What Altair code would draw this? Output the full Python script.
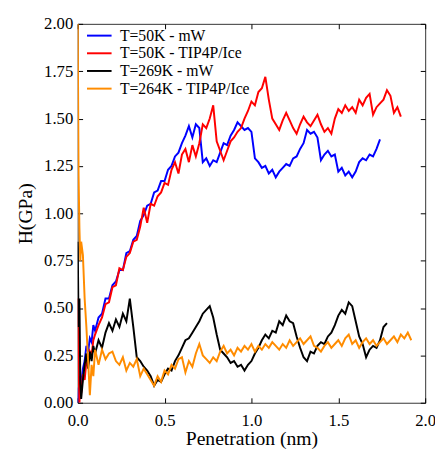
import altair as alt
import pandas as pd

penetration_nm = [0.000, 0.005, 0.010, 0.015, 0.020, 0.030, 0.040, 0.050, 0.060, 0.070, 0.080, 0.090, 0.100,
    0.12, 0.14, 0.16, 0.18, 0.20, 0.22, 0.24, 0.26, 0.28, 0.30,
    0.32, 0.34, 0.36, 0.38, 0.40, 0.42, 0.44, 0.46, 0.48, 0.50,
    0.52, 0.54, 0.56, 0.58, 0.60, 0.62, 0.64, 0.66, 0.68, 0.70,
    0.72, 0.74, 0.76, 0.78, 0.80, 0.82, 0.84, 0.86, 0.88, 0.90,
    0.92, 0.94, 0.96, 0.98, 1.00, 1.02, 1.04, 1.06, 1.08, 1.10,
    1.12, 1.14, 1.16, 1.18, 1.20, 1.22, 1.24, 1.26, 1.28, 1.30,
    1.32, 1.34, 1.36, 1.38, 1.40, 1.42, 1.44, 1.46, 1.48, 1.50,
    1.52, 1.54, 1.56, 1.58, 1.60, 1.62, 1.64, 1.66, 1.68, 1.70,
    1.72, 1.74, 1.76, 1.78, 1.80, 1.82, 1.84, 1.86, 1.88, 1.90,
    1.92]

h_50k_mw = [0.00, 0.08, 0.05, 0.14, 0.10, 0.18, 0.22, 0.30, 0.27, 0.34, 0.32, 0.41, 0.38,
    0.45, 0.47, 0.55, 0.55, 0.62, 0.64, 0.70, 0.70, 0.79, 0.80,
    0.86, 0.88, 0.96, 0.99, 1.04, 1.05, 1.11, 1.12, 1.17, 1.17,
    1.23, 1.25, 1.30, 1.32, 1.37, 1.41, 1.46, 1.40, 1.47, 1.45,
    1.27, 1.29, 1.25, 1.28, 1.27, 1.32, 1.37, 1.36, 1.41, 1.44,
    1.48, 1.46, 1.44, 1.45, 1.43, 1.29, 1.27, 1.24, 1.25, 1.21,
    1.23, 1.19, 1.22, 1.24, 1.26, 1.25, 1.29, 1.30, 1.34, 1.37,
    1.44, 1.42, 1.43, 1.40, 1.28, 1.31, 1.33, 1.30, 1.31, 1.22,
    1.24, 1.20, 1.22, 1.19, 1.22, 1.27, 1.29, 1.28, 1.31, 1.30,
    1.34, 1.39]

h_50k_tip4p = [0.55, 0.20, 0.00, 0.08, 0.05, 0.15, 0.12, 0.22, 0.20, 0.27, 0.25, 0.33, 0.36,
    0.41, 0.45, 0.52, 0.53, 0.61, 0.62, 0.71, 0.70, 0.77, 0.79,
    0.85, 0.86, 0.93, 1.03, 0.95, 1.05, 1.04, 1.09, 1.11, 1.16,
    1.15, 1.23, 1.27, 1.21, 1.31, 1.34, 1.27, 1.36, 1.30, 1.37,
    1.47, 1.45, 1.50, 1.57, 1.38, 1.33, 1.28, 1.33, 1.38, 1.40,
    1.43, 1.45, 1.50, 1.54, 1.59, 1.57, 1.64, 1.66, 1.72, 1.60,
    1.50, 1.47, 1.44, 1.49, 1.53, 1.49, 1.45, 1.42, 1.47, 1.51,
    1.48, 1.46, 1.49, 1.52, 1.47, 1.43, 1.45, 1.42, 1.50, 1.55,
    1.53, 1.57, 1.54, 1.56, 1.53, 1.60, 1.57, 1.61, 1.63, 1.52,
    1.56, 1.58, 1.60, 1.65, 1.62, 1.53, 1.56, 1.51]

h_269k_mw = [0.85, 0.40, 0.55, 0.10, 0.02, 0.12, 0.20, 0.26, 0.18, 0.27, 0.22, 0.30, 0.26,
    0.33, 0.29, 0.37, 0.42, 0.38, 0.44, 0.40, 0.47, 0.43, 0.55,
    0.40, 0.24, 0.22, 0.19, 0.17, 0.14, 0.09, 0.12, 0.11, 0.15,
    0.18, 0.17, 0.22, 0.25, 0.29, 0.33, 0.34, 0.37, 0.40, 0.43,
    0.47, 0.49, 0.51, 0.45, 0.36, 0.28, 0.26, 0.24, 0.21, 0.22,
    0.19, 0.20, 0.17, 0.20, 0.22, 0.26, 0.29, 0.33, 0.36, 0.34,
    0.38, 0.37, 0.43, 0.41, 0.46, 0.43, 0.42, 0.35, 0.29, 0.24,
    0.22, 0.27, 0.26, 0.30, 0.32, 0.31, 0.35, 0.37, 0.41, 0.46,
    0.49, 0.47, 0.53, 0.51, 0.43, 0.35, 0.31, 0.24, 0.28, 0.30,
    0.29, 0.33, 0.40, 0.42]

h_264k_tip4p = [2.00, 1.20, 0.92, 0.75, 0.85, 0.78, 0.55, 0.40, 0.22, 0.04, 0.20, 0.14, 0.28,
    0.20, 0.28, 0.23, 0.26, 0.27, 0.22, 0.20, 0.24, 0.17, 0.21,
    0.19, 0.23, 0.14, 0.18, 0.15, 0.12, 0.09, 0.14, 0.11, 0.17,
    0.15, 0.20, 0.18, 0.23, 0.24, 0.16, 0.22, 0.19, 0.26, 0.31,
    0.25, 0.23, 0.21, 0.24, 0.22, 0.27, 0.30, 0.26, 0.28, 0.25,
    0.29, 0.27, 0.30, 0.28, 0.31, 0.27, 0.30, 0.28, 0.31, 0.29,
    0.32, 0.30, 0.28, 0.31, 0.29, 0.33, 0.30, 0.32, 0.34, 0.31,
    0.33, 0.35, 0.30, 0.29, 0.27, 0.30, 0.32, 0.29, 0.31, 0.33,
    0.30, 0.34, 0.36, 0.31, 0.33, 0.29, 0.32, 0.34, 0.31, 0.33,
    0.30, 0.32, 0.34, 0.31, 0.33, 0.35, 0.32, 0.36, 0.34, 0.37,
    0.33]

series_labels = ["T=50K - mW", "T=50K - TIP4P/Ice", "T=269K - mW", "T=264K - TIP4P/Ice"]
series_colors = ["#0000ff", "#ff0000", "#000000", "#ff8c00"]
x_ticks = [0.0, 0.5, 1.0, 1.5, 2.0]
y_ticks = [0.00, 0.25, 0.50, 0.75, 1.00, 1.25, 1.50, 1.75, 2.00]

rows = []
for lab, vals in zip(series_labels, [h_50k_mw, h_50k_tip4p, h_269k_mw, h_264k_tip4p]):
    for i, v in enumerate(vals):
        rows.append({"x": penetration_nm[i], "H": v, "series": lab, "idx": i})
df = pd.DataFrame(rows)

FONT = "Liberation Serif"
xs = alt.Scale(domain=[0, 2], nice=False, zero=False)
ys = alt.Scale(domain=[0, 2], nice=False, zero=False)

tick_kw = dict(offset=-5, tickSize=5, tickWidth=1, tickColor="#000000", domain=False, grid=False,
               labelOverlap=False, labelFlush=False, labelBound=False,
               labelFont=FONT, labelFontSize=17, labelColor="#000000",
               titleFont=FONT, titleFontSize=20, titleFontWeight="normal", titleColor="#000000")

lines = alt.Chart(df).mark_line(strokeWidth=2, clip=True).encode(
    x=alt.X("x:Q", scale=xs, axis=alt.Axis(orient="bottom", values=x_ticks, format=".1f",
                                           title="Penetration (nm)", labelPadding=10, titlePadding=1, **tick_kw)),
    y=alt.Y("H:Q", scale=ys, axis=alt.Axis(orient="left", values=y_ticks, format=".2f",
                                           title="H(GPa)", labelPadding=5, titlePadding=8, **tick_kw)),
    color=alt.Color("series:N", sort=series_labels,
                    scale=alt.Scale(domain=series_labels, range=series_colors),
                    legend=alt.Legend(title=None, orient="none", legendX=12, legendY=2,
                                      symbolType="M-1.39,0H1.39", symbolSize=324, symbolStrokeWidth=2,
                                      labelFont=FONT, labelFontSize=16, labelOffset=11,
                                      rowPadding=0, labelColor="#000000")),
    order="idx:Q",
)

ghost = alt.Chart(df).mark_line(strokeOpacity=0).encode(
    x=alt.X("x:Q", scale=xs, axis=alt.Axis(orient="top", values=x_ticks, labels=False, title="", **tick_kw)),
    y=alt.Y("H:Q", scale=ys, axis=alt.Axis(orient="right", values=y_ticks, labels=False, title="", **tick_kw)),
)

chart = alt.layer(lines, ghost).resolve_axis(x="independent", y="independent").properties(
    width=354, height=386,
    padding={"left": 71, "top": 12, "right": 10, "bottom": 44},
    autosize=alt.AutoSizeParams(type="none"),
).configure(font=FONT).configure_view(stroke="#333333", strokeWidth=1).configure_legend(labelFont=FONT)

chart.save("out.html", embed_options={"renderer": "svg", "actions": False})
